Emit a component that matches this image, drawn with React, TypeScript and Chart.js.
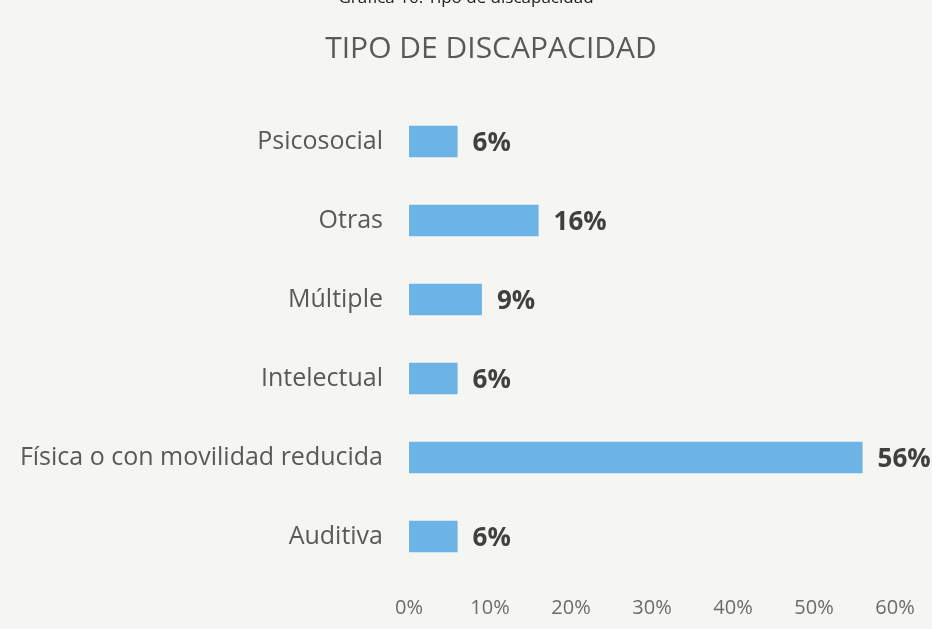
import React, { useEffect, useRef } from "react";
import { Chart, registerables } from "chart.js";

Chart.register(...registerables);

const categories = [
  "Psicosocial",
  "Otras",
  "Múltiple",
  "Intelectual",
  "Física o con movilidad reducida",
  "Auditiva",
];
const values = [6, 16, 9, 6, 56, 6];
const xTicks = [0, 10, 20, 30, 40, 50, 60];
const chartTitle = "TIPO DE DISCAPACIDAD";
const caption = "Gráfica 16. Tipo de discapacidad";

const FONT = "'Open Sans', Lato, sans-serif";

export default function App() {
  const ref = useRef<HTMLCanvasElement | null>(null);

  useEffect(() => {
    document.body.style.margin = "0";
    const canvas = ref.current;
    if (!canvas) return;

    const textPlugin = {
      id: "texts",
      beforeDraw(chart: any) {
        const ctx = chart.ctx;
        ctx.save();
        ctx.fillStyle = "#f5f5f2";
        ctx.fillRect(0, 0, chart.width, chart.height);
        ctx.restore();
      },
      afterDatasetsDraw(chart: any) {
        const ctx = chart.ctx;
        ctx.save();
        // caption (cut off at top)
        ctx.fillStyle = "#222";
        ctx.font = `17px ${FONT}`;
        ctx.textAlign = "center";
        ctx.textBaseline = "alphabetic";
        ctx.fillText(caption, 466, 3);
        // title
        ctx.fillStyle = "#595959";
        ctx.font = `30px ${FONT}`;
        ctx.textBaseline = "middle";
        ctx.fillText(chartTitle, 491, 49);
        // data labels
        const meta = chart.getDatasetMeta(0);
        ctx.font = `bold 26px ${FONT}`;
        ctx.fillStyle = "#404040";
        ctx.textAlign = "left";
        meta.data.forEach((el: any, i: number) => {
          ctx.fillText(values[i] + "%", el.x + 15, el.y + 2);
        });
        ctx.restore();
      },
    };

    const chart = new Chart(canvas, {
      type: "bar",
      data: {
        labels: categories,
        datasets: [
          {
            data: values,
            backgroundColor: "#6db4e6",
            borderWidth: 0,
            categoryPercentage: 1,
            barPercentage: 0.4,
          },
        ],
      },
      options: {
        indexAxis: "y",
        animation: false,
        responsive: false,
        layout: { padding: { top: 102, right: 37, left: 0, bottom: 0 } },
        plugins: {
          legend: { display: false },
          tooltip: { enabled: false },
          title: { display: false },
        },
        scales: {
          x: {
            min: 0,
            max: 60,
            afterBuildTicks(scale: any) {
              scale.ticks = xTicks.map((v) => ({ value: v }));
            },
            afterFit(scale: any) {
              scale.height = 53;
            },
            grid: { display: false },
            border: { display: false },
            ticks: {
              padding: 12,
              color: "#6b6b6b",
              font: { family: FONT, size: 20 },
              callback: (v: any) => v + "%",
              maxRotation: 0,
            },
          },
          y: {
            afterFit(scale: any) {
              scale.width = 409;
            },
            grid: { display: false },
            border: { display: false },
            ticks: {
              padding: 18,
              color: "#595959",
              font: { family: FONT, size: 25 },
            },
          },
        },
      },
      plugins: [textPlugin],
    });

    return () => chart.destroy();
  }, []);

  return (
    <div style={{ position: "absolute", left: 0, top: 0, width: 932, height: 629 }}>
      <canvas ref={ref} width={932} height={629} style={{ display: "block" }} />
    </div>
  );
}
